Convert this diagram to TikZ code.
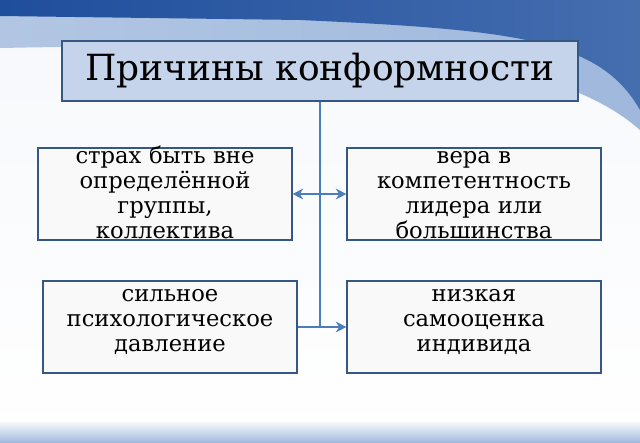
\documentclass[tikz,border=0pt]{standalone}
\usepackage{fontspec}
\setmainfont{DejaVu Serif}
\usetikzlibrary{positioning,arrows.meta}
\definecolor{edge}{HTML}{4A7EBB}
\definecolor{topblue}{HTML}{1F4E9C}
\definecolor{band}{HTML}{9FB8DC}
\tikzset{
  reason/.style={draw=edge!70!black,thick,fill=white!95!gray,minimum width=190.5pt,minimum height=69pt,inner sep=0pt},
  reasontext/.style={text width=188pt,align=center,font=\fontsize{17}{18.75}\selectfont,inner sep=0pt},
  link/.style={edge,line width=2.2pt},
}
\begin{document}
\begin{tikzpicture}[x=0.75pt,y=-0.75pt,>={Stealth[length=8pt,width=8pt]}]
  % background
  \useasboundingbox (0,0) rectangle (640,443);
  \shade[top color=white!90!band,bottom color=white] (0,0) rectangle (640,443);
  \shade[left color=band!80!white,right color=band] (0,0) -- (640,0) -- (640,130)
    .. controls (560,60) and (400,40) .. (0,48) -- cycle;
  \shade[left color=topblue,right color=topblue!70!band] (0,0) -- (640,0) -- (640,110)
    .. controls (600,40) and (520,30) .. (300,20) -- (0,16) -- cycle;
  \shade[top color=white,bottom color=band] (0,420) rectangle (640,443);
  % title
  \node[draw=edge!70!black,thick,fill=band!60!white,minimum width=387pt,minimum height=45pt,
    font=\fontsize{27}{30}\selectfont] (title) at (320,71) {Причины конформности};
  % reasons
  \node[reason] (fear) at (165,194) {};
  \node[reasontext] (fearText) at (165,192) {страх быть вне\\определённой\\группы,\\коллектива};
  \node[reason] (faith) at (474,194) {};
  \node[reasontext] (faithText) at (474,195) {вера в\\компетентность\\лидера или\\большинства};
  \node[reason] (press) at (170,327) {};
  \node[reasontext] (pressText) at (170,322) {сильное\\психологическое\\давление};
  \node[reason] (self) at (474,327) {};
  \node[reasontext] (selfText) at (474,322) {низкая\\самооценка\\индивида};
  % connectors
  \coordinate (trunk) at (320,327);
  \draw[link] (title.south) -- (trunk);
  \draw[link,<->] (fear.east) -- (faith.west);
  \draw[link] (press.east) -- (trunk);
  \draw[link,->] (trunk) -- (self.west);
\end{tikzpicture}
\end{document}
